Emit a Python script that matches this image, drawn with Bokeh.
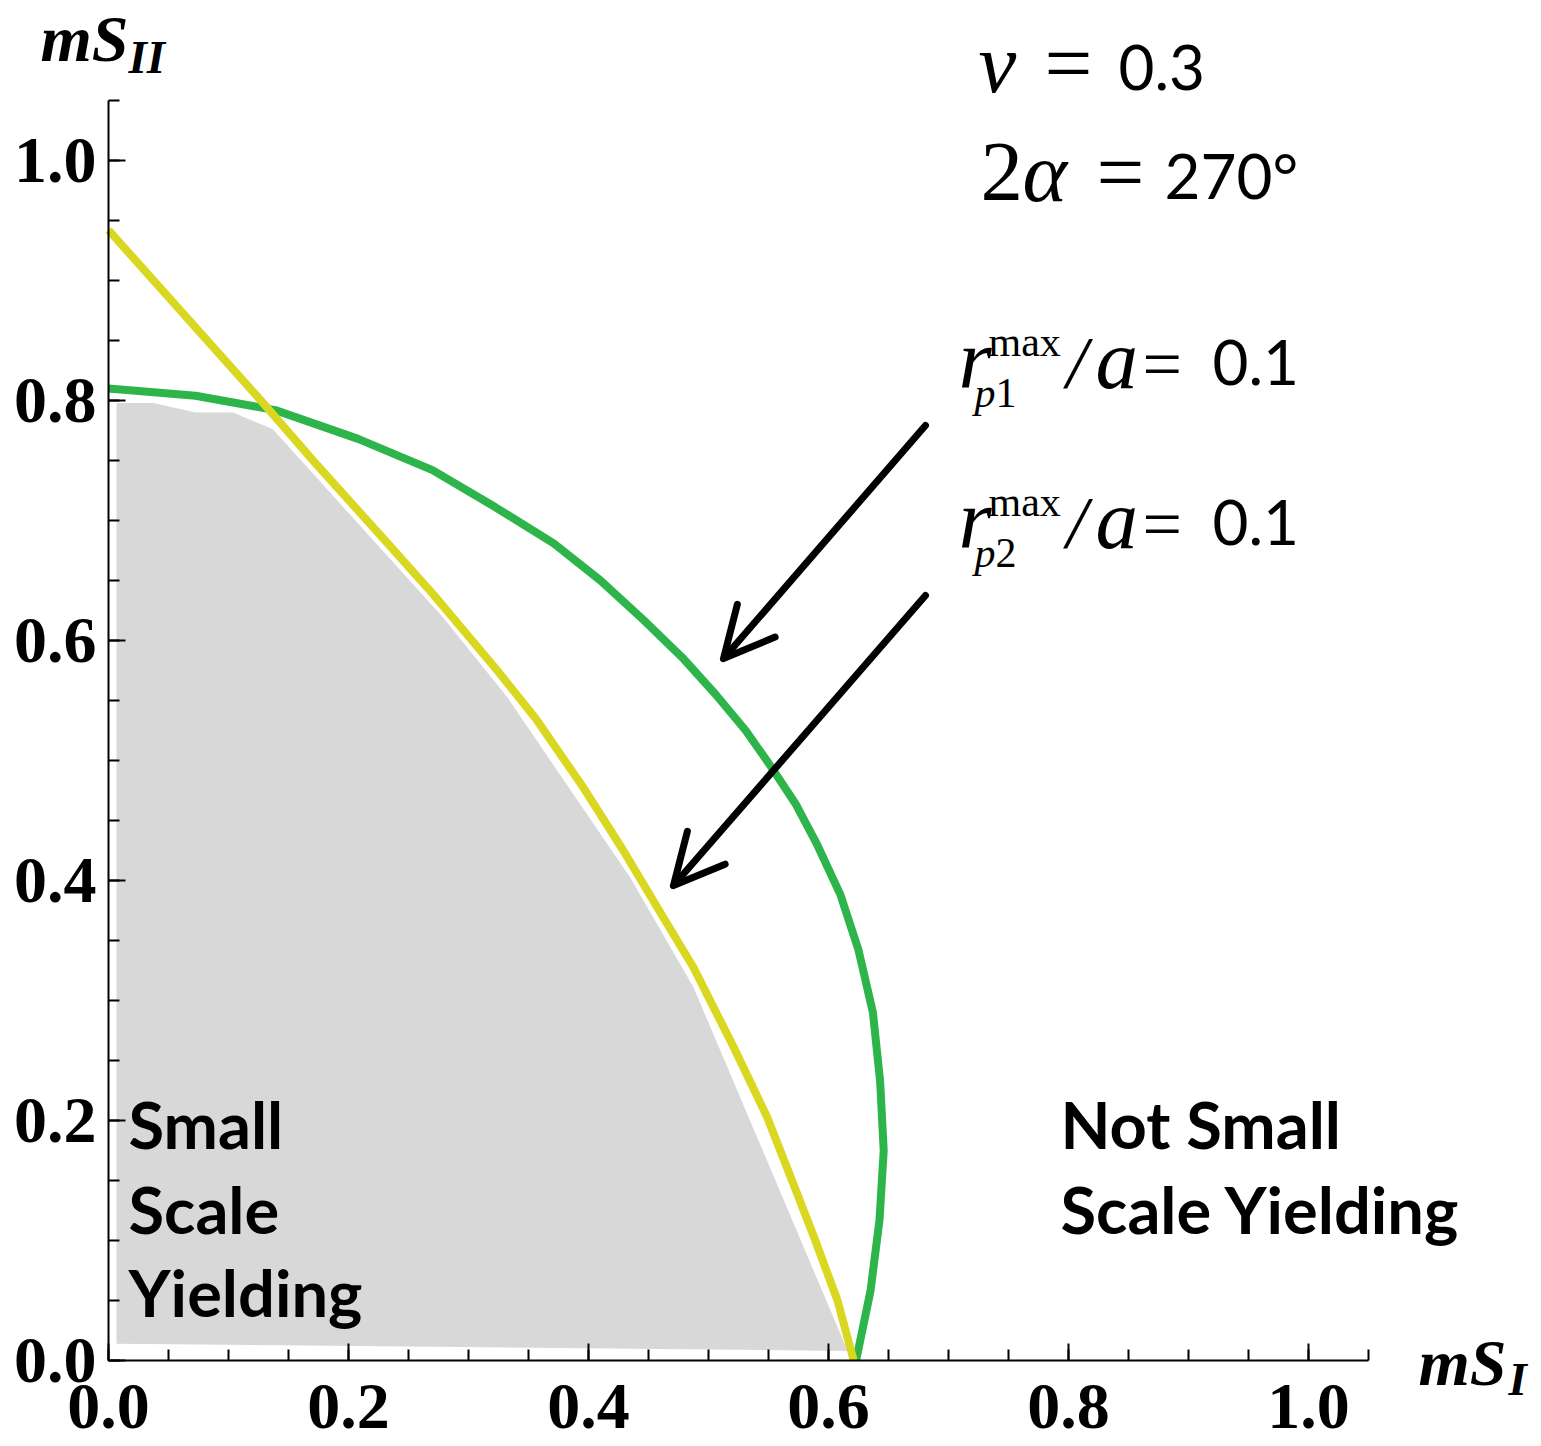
from bokeh.plotting import figure
from bokeh.models import (Range1d, SingleIntervalTicker, PrintfTickFormatter,
                          Label, Arrow, OpenHead)
from bokeh.embed import file_html
from bokeh.resources import INLINE

# r_p1^max / a = 0.1 boundary (green)
green_x = [0.0, 0.0725, 0.139, 0.208, 0.27, 0.3225, 0.371, 0.41, 0.446, 0.478,
           0.506, 0.531, 0.552, 0.5725, 0.59, 0.61, 0.625, 0.637, 0.643, 0.646,
           0.6425, 0.635, 0.623]
green_y = [0.81, 0.804, 0.792, 0.768, 0.742, 0.711, 0.681, 0.65, 0.617, 0.586,
           0.555, 0.525, 0.495, 0.464, 0.431, 0.388, 0.342, 0.29, 0.233, 0.175,
           0.117, 0.058, 0.0]

# r_p2^max / a = 0.1 boundary (yellow)
yellow_x = [0.0, 0.127, 0.174, 0.229, 0.271, 0.324, 0.356, 0.396, 0.429, 0.4625,
            0.4875, 0.521, 0.549, 0.5735, 0.5875, 0.6075, 0.621]
yellow_y = [0.942, 0.8, 0.746, 0.685, 0.638, 0.575, 0.535, 0.477, 0.425, 0.369,
            0.3275, 0.261, 0.2025, 0.14, 0.104, 0.05, 0.0]

# small scale yielding region (grey)
region_x = [0.0067, 0.0375, 0.0725, 0.104, 0.137, 0.279, 0.3325, 0.435, 0.4875,
            0.616, 0.0067]
region_y = [0.798, 0.798, 0.79, 0.79, 0.776, 0.619, 0.5525, 0.402, 0.311,
            0.008, 0.014]

# arrows pointing from the annotations to the curves
arrow_tail_x = [0.6808, 0.6808]
arrow_tail_y = [0.7792, 0.6375]
arrow_tip_x = [0.5125, 0.4708]
arrow_tip_y = [0.585, 0.3958]

axis_min, axis_max = 0.0, 1.0501
tick_interval = 0.2

# the plotting area spans the whole canvas; the axes sit at x = 0 and y = 0
SCALE = 1200.0          # pixels per unit
X0, Y0 = 108, 1360      # pixel position of the origin
W, H = 1541, 1446

p = figure(frame_width=W, frame_height=H,
           x_range=Range1d(-X0 / SCALE, (W - X0) / SCALE),
           y_range=Range1d(-(H - Y0) / SCALE, Y0 / SCALE),
           output_backend="svg", toolbar_location=None,
           min_border=0)
p.outline_line_color = None
p.grid.visible = False
p.background_fill_color = "white"
p.border_fill_color = "white"

p.xaxis.fixed_location = 0
p.yaxis.fixed_location = 0
for ax in (p.xaxis[0], p.yaxis[0]):
    ax.bounds = (axis_min, axis_max)
    ax.ticker = SingleIntervalTicker(interval=tick_interval, num_minor_ticks=4)
    ax.formatter = PrintfTickFormatter(format="%.1f")
    ax.major_label_text_font = "Liberation Serif"
    ax.major_label_text_font_style = "bold"
    ax.major_label_text_font_size = "66px"
    ax.major_label_text_color = "black"
    ax.axis_line_width = 2
    ax.axis_line_color = "black"
    ax.major_tick_line_width = 2
    ax.minor_tick_line_width = 2
    ax.major_tick_line_color = "black"
    ax.minor_tick_line_color = "black"
    ax.major_tick_in = 17
    ax.major_tick_out = 0
    ax.minor_tick_in = 11
    ax.minor_tick_out = 0
p.yaxis.major_label_standoff = 12
p.xaxis.major_label_standoff = 24

p.patch(region_x, region_y, fill_color="#D8D8D8", line_color=None)
p.line(green_x, green_y, line_color="#2DB44B", line_width=8)
p.line(yellow_x, yellow_y, line_color="#D9D720", line_width=8)

for xs, ys, xe, ye in zip(arrow_tail_x, arrow_tail_y, arrow_tip_x, arrow_tip_y):
    p.add_layout(Arrow(end=OpenHead(size=50, line_width=7, line_color="black",
                                    line_cap="round", line_join="round"),
                       x_start=xs, y_start=ys, x_end=xe, y_end=ye,
                       line_width=7, line_color="black", line_cap="round"))


def label(text, x, y, font="Liberation Serif", size=85, style="normal"):
    # x, y: pixel position of the text's left end and baseline
    lift = (0.41 if font == "Lato" else 0.33) * size
    p.add_layout(Label(x=(x - X0) / SCALE, y=(Y0 - y + lift) / SCALE, text=text,
                       text_font=font, text_font_size=f"{size}px",
                       text_font_style=style, text_color="black",
                       text_baseline="alphabetic", text_align="left"))


# axis titles
label("mS", 40, 60, size=66, style="bold italic")
label("II", 128, 72, size=47, style="bold italic")
label("mS", 1418, 1384, size=66, style="bold italic")
label("I", 1508, 1394, size=47, style="bold italic")

# parameters
label("\u03bd", 978, 91, style="italic")
label("=", 1044, 91)
label("0.3", 1118, 92, font="Lato", size=62)
label("2", 980, 200)
label("\u03b1", 1022, 200, style="italic")
label("=", 1096, 200)
label("270\u00b0", 1164, 200, font="Lato", size=62)

# plastic zone size annotations
for dy, idx in ((0, "1"), (160, "2")):
    label("r", 958, 387 + dy, style="italic")
    label("max", 988, 355 + dy, size=42)
    label("p", 974, 406 + dy, size=42, style="italic")
    label(idx, 995, 406 + dy, size=42)
    label("/", 1066, 387 + dy, size=75, style="italic")
    label("a", 1095, 387 + dy, style="italic")
    label("=", 1142, 387 + dy, size=70)
    label("0.1", 1212, 387 + dy, font="Lato", size=62)

# region labels
for text, y in (("Small", 1150), ("Scale", 1235), ("Yielding", 1318)):
    label(text, 128, y, font="Lato", size=65, style="bold")
for text, y in (("Not Small", 1150), ("Scale Yielding", 1235)):
    label(text, 1060, y, font="Lato", size=65, style="bold")

open("out.html", "w").write(file_html(p, INLINE))
